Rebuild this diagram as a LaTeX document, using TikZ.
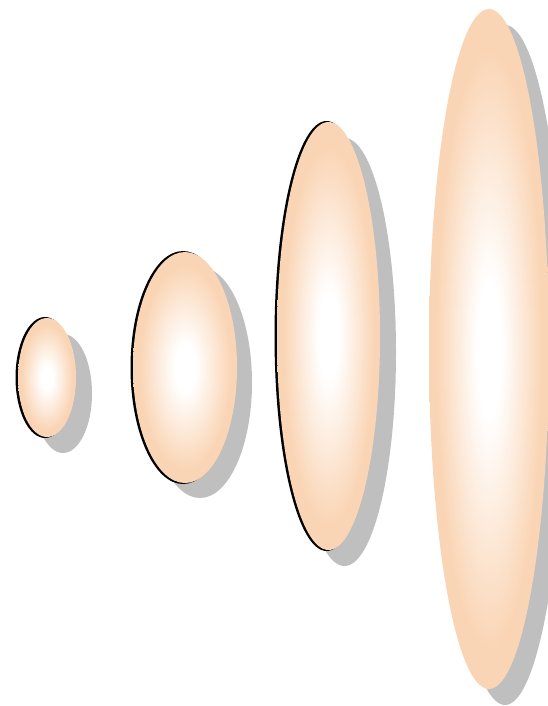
\documentclass[tikz,border=0pt]{standalone}
\definecolor{peach}{RGB}{250,213,181}
\definecolor{shadowgray}{RGB}{191,191,191}
\pgfdeclareradialshading{eggshade}{\pgfpoint{0bp}{0bp}}{%
  color(0bp)=(white); color(5bp)=(white); color(22bp)=(peach); color(25bp)=(peach); color(50bp)=(peach)}
\tikzset{
  eggshadow/.style={fill=shadowgray},
  eggedge/.style={fill=black},
  egg/.style={shading=eggshade}
}
\newcommand{\egg}[6]{% cx, cy, rx, ry, shadow offset, edge(1/0)
  \fill[eggshadow] (#1+#5,#2+#5) ellipse [x radius=#3, y radius=#4];
  \ifnum#6=1 \fill[eggedge] (#1-2,#2) ellipse [x radius=#3+0.5, y radius=#4+1];\fi
  \shade[egg] (#1,#2) ellipse [x radius=#3, y radius=#4];
}
\begin{document}
\begin{tikzpicture}[x=1pt,y=-1pt]
\useasboundingbox (0,0) rectangle (548,706);
\egg{47}{377.5}{29}{59.5}{16}{1}
\egg{185}{367.5}{52}{115.5}{15}{1}
\egg{328.5}{336}{51.5}{214}{16}{1}
\egg{489}{349}{60}{340}{16}{0}
\end{tikzpicture}
\end{document}
